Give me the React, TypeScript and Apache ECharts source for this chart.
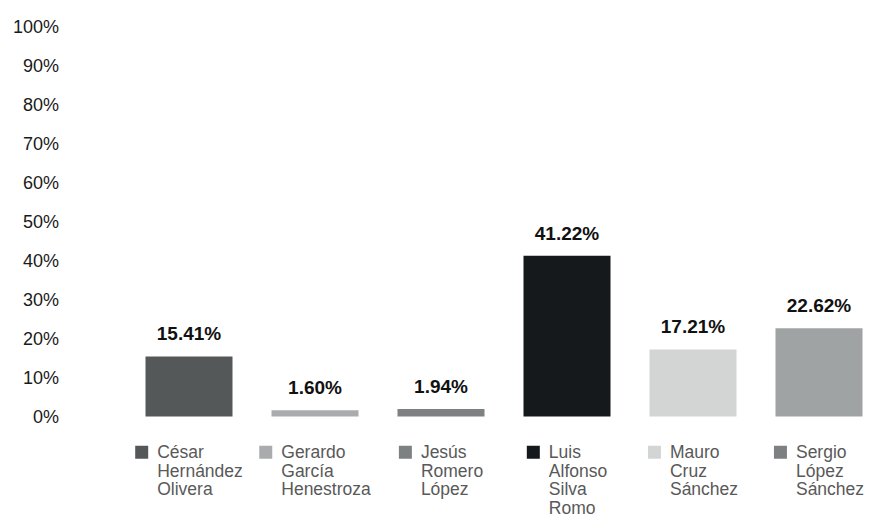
import React, { useEffect, useRef } from "react";
import * as echarts from "echarts";

const categories = ["César Hernández Olivera", "Gerardo García Henestroza", "Jesús Romero López", "Luis Alfonso Silva Romo", "Mauro Cruz Sánchez", "Sergio López Sánchez"];
const values = [15.41, 1.6, 1.94, 41.22, 17.21, 22.62];
const barColors = ["#555859", "#a9abac", "#7e8182", "#16191b", "#d3d4d4", "#a0a3a4"];
const legendColors = ["#555859", "#a9abac", "#7e8182", "#16191b", "#d3d4d4", "#7e8182"];
const yTicks = [0, 10, 20, 30, 40, 50, 60, 70, 80, 90, 100];

const FONT = "'Liberation Sans', Arial, Helvetica, sans-serif";

export default function App() {
  const ref = useRef<HTMLDivElement>(null);
  useEffect(() => {
    if (!ref.current) return;
    const chart = echarts.init(ref.current, null, { renderer: "svg" });
    const rich: Record<string, any> = {
      sp: { width: 22, height: 13, align: "left" },
      t: { fontSize: 17.5, fontFamily: FONT, color: "#595959", lineHeight: 18.5, align: "left" },
      t1: { fontSize: 17.5, fontFamily: FONT, color: "#595959", lineHeight: 18.5, align: "left", padding: [0, 0, 0, 9] },
    };
    legendColors.forEach((c, i) => {
      rich["sq" + i] = { width: 13, height: 13, backgroundColor: c, align: "left" };
    });
    chart.setOption({
      animation: false,
      grid: { left: 126, top: 26.5, width: 762, height: 390, containLabel: false },
      xAxis: {
        type: "category",
        data: categories,
        axisLine: { show: false },
        axisTick: { show: false },
        axisLabel: {
          interval: 0,
          margin: 26.5,
          align: "center",
          verticalAlign: "top",
          formatter: (val: string, idx: number) => {
            const words = val.split(" ");
            return words
              .map((w, k) => (k === 0 ? `{sq${idx}|}{t1|${w}}` : `{sp|}{t|${w}}`))
              .join("\n");
          },
          rich,
        },
      },
      yAxis: {
        type: "value",
        min: yTicks[0],
        max: yTicks[yTicks.length - 1],
        interval: 10,
        axisLine: { show: false },
        axisTick: { show: false },
        splitLine: { show: false },
        axisLabel: {
          margin: 67,
          formatter: "{value}%",
          fontSize: 18,
          fontFamily: FONT,
          color: "#1a1a1a",
        },
      },
      series: [
        {
          type: "bar",
          barWidth: 87,
          data: values.map((v, i) => ({ value: v, itemStyle: { color: barColors[i] } })),
          label: {
            show: true,
            position: "top",
            distance: 13,
            formatter: (p: any) => p.value.toFixed(2) + "%",
            fontSize: 19,
            fontWeight: "bold",
            fontFamily: FONT,
            color: "#111111",
          },
        },
      ],
    });
    return () => chart.dispose();
  }, []);
  return <div ref={ref} style={{ position: "absolute", left: 0, top: 0, width: 882, height: 531 }} />;
}
